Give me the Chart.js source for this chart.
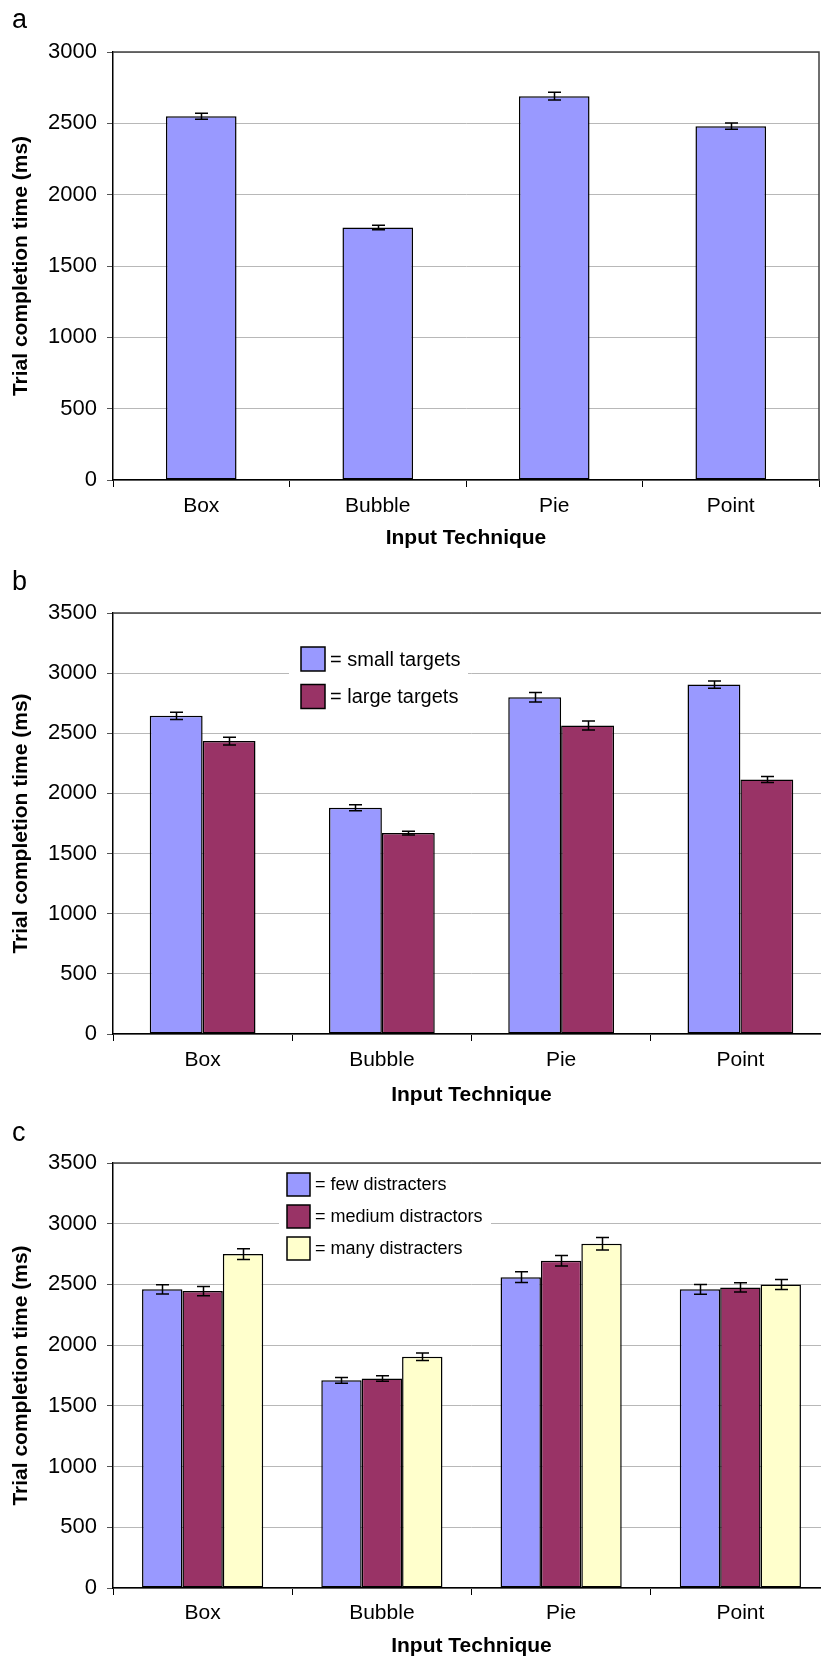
<!DOCTYPE html>
<html>
<head>
<meta charset="utf-8">
<script src="https://cdn.jsdelivr.net/npm/chart.js@4.4.0/dist/chart.umd.min.js"></script>
<style>
html, body { margin: 0; padding: 0; background: #fff; }
#wrap { position: relative; width: 821px; height: 1662px; overflow: hidden; }
#wrap canvas { position: absolute; left: 0; display: block; }
</style>
</head>
<body>
<div id="wrap">
  <canvas id="chartA" width="821" height="556" style="top:0px"></canvas>
  <canvas id="chartB" width="832" height="555" style="top:556px"></canvas>
  <canvas id="chartC" width="832" height="551" style="top:1111px"></canvas>
</div>
<script>
// --- data ---
var techniques = ['Box', 'Bubble', 'Pie', 'Point'];
var yTicksA = [0, 500, 1000, 1500, 2000, 2500, 3000];
var yTicksBC = [0, 500, 1000, 1500, 2000, 2500, 3000, 3500];

// a: overall
var overallTimes = [2550, 1770, 2690, 2480];
var overallErr = [21, 16, 27, 22];

// b: target size
var smallTargetTimes = [2645, 1880, 2800, 2905];
var smallTargetErr = [30, 25, 40, 30];
var largeTargetTimes = [2435, 1670, 2565, 2115];
var largeTargetErr = [32, 15, 38, 25];

// c: distracter count
var fewTimes = [2460, 1710, 2560, 2460];
var fewErr = [38, 24, 44, 40];
var mediumTimes = [2445, 1725, 2695, 2475];
var mediumErr = [38, 23, 44, 38];
var manyTimes = [2750, 1905, 2835, 2500];
var manyErr = [44, 31, 52, 41];

var BLUE = '#9999FF', PLUM = '#993366', CREAM = '#FFFFCC';
var FONT = '"Liberation Sans", Arial, Helvetica, sans-serif';
Chart.defaults.font.family = FONT;
Chart.defaults.color = '#000';

var errorBars = {
  id: 'errorBars',
  afterDatasetsDraw(chart) {
    var ctx = chart.ctx, ys = chart.scales.y;
    ctx.save();
    ctx.strokeStyle = '#000';
    ctx.lineWidth = 1.5;
    chart.data.datasets.forEach(function (ds, i) {
      if (!ds.errors) return;
      chart.getDatasetMeta(i).data.forEach(function (bar, j) {
        var hi = ys.getPixelForValue(ds.data[j] + ds.errors[j]);
        var lo = ys.getPixelForValue(ds.data[j] - ds.errors[j]);
        var x = Math.round(bar.x) + 0.5;
        ctx.beginPath();
        ctx.moveTo(x, hi); ctx.lineTo(x, lo);
        ctx.moveTo(x - 6.5, hi); ctx.lineTo(x + 6.5, hi);
        ctx.moveTo(x - 6.5, lo); ctx.lineTo(x + 6.5, lo);
        ctx.stroke();
      });
    });
    ctx.restore();
  }
};

// inset legend with white backing that cuts the grid lines
var boxLegend = {
  id: 'boxLegend',
  beforeDatasetsDraw(chart, args, o) {
    if (!o || !o.show) return;
    var ctx = chart.ctx, n = chart.data.datasets.length;
    ctx.save();
    ctx.fillStyle = '#fff';
    ctx.fillRect(o.bgLeft, o.y - 6, o.bgRight - o.bgLeft, o.pitch * (n - 1) + o.box + 12);
    ctx.font = o.fontSize + 'px ' + FONT;
    ctx.textBaseline = 'middle';
    chart.data.datasets.forEach(function (ds, i) {
      var top = o.y + i * o.pitch;
      ctx.fillStyle = ds.backgroundColor;
      ctx.fillRect(o.x, top, o.box, o.box);
      ctx.lineWidth = 1.5;
      ctx.strokeStyle = '#000';
      ctx.strokeRect(o.x, top, o.box, o.box);
      ctx.fillStyle = '#000';
      ctx.fillText('= ' + ds.label, o.x + o.box + 5, top + o.box / 2 + 1);
    });
    ctx.restore();
  }
};

var frame = {
  id: 'frame',
  beforeDatasetsDraw(chart, args, o) {
    var a = chart.chartArea, ctx = chart.ctx;
    ctx.save();
    ctx.strokeStyle = '#404040';
    ctx.lineWidth = 1.5;
    ctx.beginPath();
    ctx.moveTo(a.left, a.top); ctx.lineTo(a.right, a.top);
    if (o && o.right) { ctx.lineTo(a.right, a.bottom); }
    ctx.stroke();
    ctx.restore();
  },
  afterDraw(chart, args, o) {
    if (!o || !o.letter) return;
    var ctx = chart.ctx;
    ctx.save();
    ctx.fillStyle = '#000';
    ctx.font = '27px ' + FONT;
    ctx.textBaseline = 'alphabetic';
    ctx.fillText(o.letter, 12, o.letterY);
    ctx.restore();
  }
};

function makeChart(id, p) {
  var canvas = document.getElementById(id);
  var H = canvas.height, W = canvas.width;
  return new Chart(canvas, {
    type: 'bar',
    data: { labels: techniques, datasets: p.datasets },
    plugins: [errorBars, boxLegend, frame],
    options: {
      responsive: false,
      maintainAspectRatio: false,
      animation: false,
      layout: { padding: { top: p.top, left: 0, right: W - p.right, bottom: 0 } },
      datasets: { bar: { categoryPercentage: p.catPct, barPercentage: 1.0, borderColor: '#000', borderWidth: 1.5, borderSkipped: false } },
      plugins: {
        legend: { display: false },
        tooltip: { enabled: false },
        boxLegend: p.legend || { show: false },
        frame: { right: p.frameRight, letter: p.letter, letterY: p.letterY }
      },
      scales: {
        x: {
          ticks: { font: { size: 21 }, padding: p.xTickPad, maxRotation: 0 },
          grid: { drawOnChartArea: false, drawTicks: true, tickLength: 7, tickColor: '#000', offset: true },
          border: { color: '#000', width: 1.5 },
          title: { display: true, text: 'Input Technique', font: { size: 21, weight: 'bold' }, padding: { top: 0, bottom: p.xTitlePad } },
          afterFit: function (s) { s.height = H - p.axis; }
        },
        y: {
          min: 0,
          max: p.yTicks[p.yTicks.length - 1],
          afterBuildTicks: function (s) { s.ticks = p.yTicks.map(function (v) { return { value: v }; }); },
          ticks: { font: { size: 22 }, padding: 10, callback: function (v) { return String(v); } },
          grid: { color: '#b8b8b8', lineWidth: 1, tickLength: 6, tickColor: '#555' },
          border: { color: '#000', width: 1.5 },
          title: { display: true, text: 'Trial completion time (ms)', font: { size: 21, weight: 'bold' }, padding: { top: 9, bottom: 0 } },
          afterFit: function (s) { s.width = 113; }
        }
      }
    }
  });
}

makeChart('chartA', {
  top: 52, axis: 480, right: 819, catPct: 0.40, xTickPad: 7, xTitlePad: 5,
  yTicks: yTicksA, frameRight: true, letter: 'a', letterY: 28,
  datasets: [
    { label: 'overall', data: overallTimes, errors: overallErr, backgroundColor: BLUE }
  ]
});

makeChart('chartB', {
  top: 57, axis: 478, right: 830, catPct: 0.59, xTickPad: 7, xTitlePad: 3,
  yTicks: yTicksBC, frameRight: false, letter: 'b', letterY: 34,
  legend: { show: true, x: 301, y: 91, box: 24, pitch: 37.5, fontSize: 20, bgLeft: 289, bgRight: 468 },
  datasets: [
    { label: 'small targets', data: smallTargetTimes, errors: smallTargetErr, backgroundColor: BLUE },
    { label: 'large targets', data: largeTargetTimes, errors: largeTargetErr, backgroundColor: PLUM }
  ]
});

makeChart('chartC', {
  top: 52, axis: 477, right: 830, catPct: 0.676, xTickPad: 6, xTitlePad: 3,
  yTicks: yTicksBC, frameRight: false, letter: 'c', letterY: 30,
  legend: { show: true, x: 287, y: 62, box: 23, pitch: 32, fontSize: 18, bgLeft: 279, bgRight: 491 },
  datasets: [
    { label: 'few distracters', data: fewTimes, errors: fewErr, backgroundColor: BLUE },
    { label: 'medium distractors', data: mediumTimes, errors: mediumErr, backgroundColor: PLUM },
    { label: 'many distracters', data: manyTimes, errors: manyErr, backgroundColor: CREAM }
  ]
});
</script>
</body>
</html>
